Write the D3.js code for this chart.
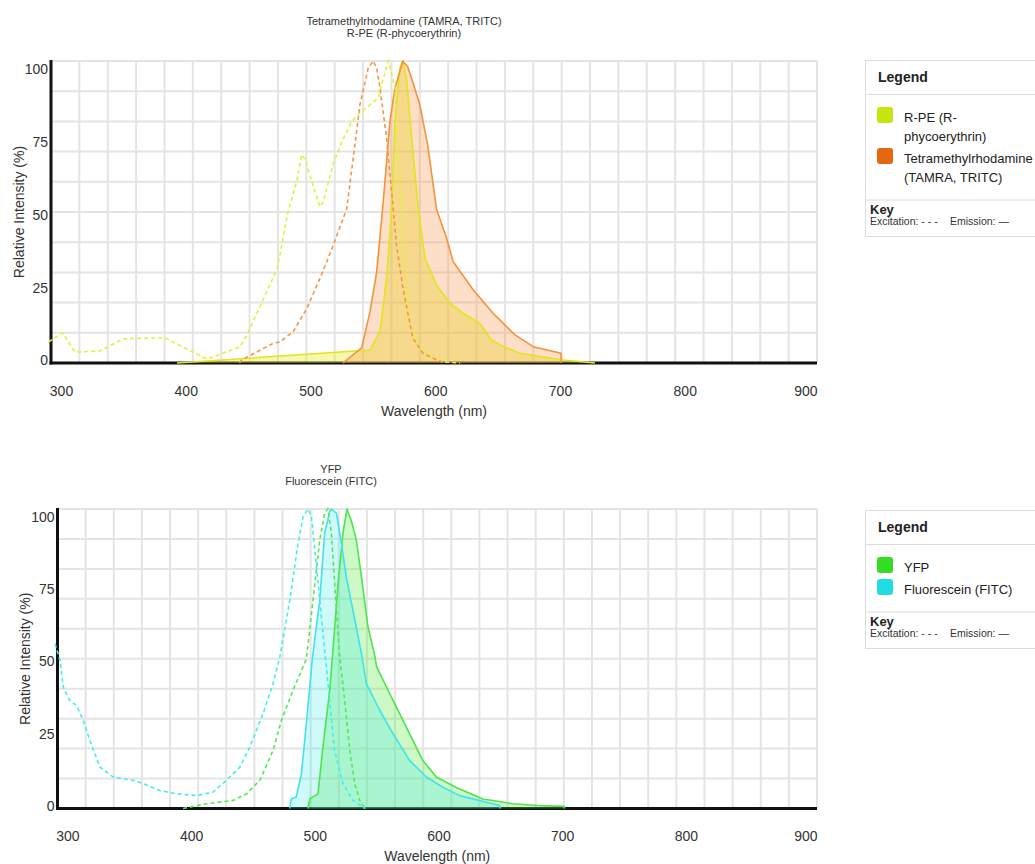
<!DOCTYPE html>
<html>
<head>
<meta charset="utf-8">
<script src="https://cdn.jsdelivr.net/npm/d3@7"></script>
<style>
  body { margin: 0; background: #fff; }
  svg { display: block; }
</style>
</head>
<body>
<svg id="spectra" width="1035" height="864"></svg>
<script>
// ---- axis ticks ----
const wavelengthDomain = [292, 906];
const wavelengthTicks = [300, 400, 500, 600, 700, 800, 900];
const intensityTicks = [0, 25, 50, 75, 100];
const gridColumns = 27;          // vertical grid divisions
const gridRowStep = 10;          // horizontal grid every 10 %

// ---- spectra: [wavelength (nm), relative intensity (%)] ----
const rpeExcitation = [[290,7],[301.6,10],[311.2,3.6],[331.3,4],[349.7,8],[379.4,8.3],[385,8],[417,1.3],[443.5,5.3],[449.9,10],[473.1,31],[475.5,35.8],[481.9,50],[489.2,60.6],[492.9,69],[495.5,67.5],[507.5,51.7],[510,53],[517.9,65.6],[525,73],[533,79.9],[539.6,82.8],[554.2,87.7],[562.3,100],[565,96],[567.7,91],[569,80],[573,51],[575.7,30],[579.7,12.6],[587.7,5],[598.2,1.7],[609.2,0.3],[620,0]];
const rpeEmission = [[393,0],[547.7,4.3],[555.7,10.4],[561,28],[565,51],[567.7,80],[571.7,97.7],[574,100],[577,94],[581.1,74.4],[586.4,51.2],[591.8,34.7],[601.1,25.8],[611.8,19.8],[622.4,16.4],[635.8,13.1],[645.2,7.6],[651.9,6],[667.9,3.2],[702.6,1],[728,0]];
const tamraExcitation = [[443,0],[444.8,1],[470,6.5],[475.5,7],[486.2,10.4],[497,18],[507.6,28],[518.3,39],[529,51],[534.3,68],[539.6,85.4],[546.3,97.7],[550.3,100],[553,97.7],[555.7,91],[561,74.5],[566,52.3],[569,39],[574,25],[582,8.3],[590,3.3],[601,1],[608,0]];
const tamraEmission = [[526,0],[541,5],[547.7,17],[553,30],[558,52],[563.7,80],[567.7,91],[574,100],[578,98],[582,93],[587.7,85.4],[594,72],[601,51],[609.1,41.3],[614.4,33.5],[630.5,24.2],[646.5,16.4],[651.9,14.2],[663.9,9.3],[678.6,5.4],[700.8,3.2],[701,0]];

const yfpExcitation = [[393.5,0],[412.5,1.6],[434,2.7],[444.8,4.9],[455.5,9.4],[466.3,19.4],[473,29.4],[482.4,39.5],[493.2,50],[498.6,69.6],[504,89.6],[508,98.6],[510.5,100],[513.4,92],[516.1,75],[518.8,58.5],[520.2,50.5],[524.2,36],[528.3,19.4],[532.3,8.3],[536.3,2.7],[540.4,0]];
const yfpEmission = [[494.5,0],[495.9,3.2],[502.6,4.9],[506.6,20.5],[512.1,39.5],[514.7,53],[518.8,75],[522.8,92],[526,100],[529.6,96],[533.6,89.6],[537.7,77.4],[543,60.6],[548.4,51.2],[550,47.3],[557.9,40.6],[571.3,29.4],[587.4,16],[598.3,10.5],[614.4,7],[635.9,3.2],[659.9,1.6],[680,1],[701.5,0.7],[702,0]];
const fitcExcitation = [[290,55],[294,49.5],[296.6,40.6],[302,36],[307.4,34.4],[312.8,29.4],[318.2,22.7],[326.3,13.8],[337,10.5],[353.2,9.4],[361.2,8.3],[374.7,6],[388.2,4.9],[404.4,4.3],[417.8,5.5],[428.6,9.4],[439.4,13.8],[447.4,20.5],[458.2,31.7],[466.3,41.7],[471.7,50.6],[479.8,69.6],[486.5,88.5],[490.5,97.4],[494.5,100],[497.3,97.4],[500,86.3],[504,69.6],[508,52.8],[512,36],[516,19.4],[522.8,8.3],[530.9,2.7],[539,0.4],[541,0]];
const fitcEmission = [[479.8,0],[481,3.2],[485,3.8],[489.2,11.6],[493.2,28.3],[498,50],[504,69.6],[508,92],[512,99],[513.4,100],[517.5,98.6],[520.2,92],[525.6,77],[530.9,66],[537.7,51.8],[541.7,41.7],[552.5,32.8],[563.2,25],[576.7,16],[590.2,10.5],[603.6,7.1],[617.1,4.3],[649.4,1],[650,0]];

// ---- names shown in titles and legends ----
const topTitleLines = ["Tetramethylrhodamine (TAMRA, TRITC)", "R-PE (R-phycoerythrin)"];
const bottomTitleLines = ["YFP", "Fluorescein (FITC)"];
const rpeLegendLines = ["R-PE (R-", "phycoerythrin)"];
const tamraLegendLines = ["Tetramethylrhodamine", "(TAMRA, TRITC)"];
const yfpLegendLines = ["YFP"];
const fitcLegendLines = ["Fluorescein (FITC)"];

const FONT = '"Liberation Sans", Arial, Helvetica, sans-serif';
const TEXT = "#333";

const svg = d3.select("#spectra").attr("font-family", FONT);

function drawChart(cfg) {
  const x = d3.scaleLinear().domain(wavelengthDomain).range([cfg.left, cfg.right]);
  const y = d3.scaleLinear().domain([0, 100]).range([cfg.bottom, cfg.top]);
  // tick labels sit slightly inside the extreme gridlines
  const yLabel = d3.scaleLinear().domain([0, 100]).range([cfg.bottom - 3, cfg.top + 7.5]);
  const gridX = d3.scaleLinear().domain([0, gridColumns]).range([cfg.left, cfg.right]);

  const g = svg.append("g");

  // grid
  g.append("g").selectAll("line").data(d3.range(1, gridColumns + 1)).join("line")
    .attr("x1", d => gridX(d)).attr("x2", d => gridX(d))
    .attr("y1", cfg.top).attr("y2", cfg.bottom)
    .attr("stroke", "#e4e4e4").attr("stroke-width", 2);
  g.append("g").selectAll("line").data(d3.range(gridRowStep, 101, gridRowStep)).join("line")
    .attr("x1", cfg.left).attr("x2", cfg.right)
    .attr("y1", d => y(d)).attr("y2", d => y(d))
    .attr("stroke", "#e4e4e4").attr("stroke-width", 2);

  // axis lines
  g.append("line").attr("x1", cfg.left).attr("x2", cfg.left)
    .attr("y1", cfg.top - 1).attr("y2", cfg.bottom + 1.5)
    .attr("stroke", "#111").attr("stroke-width", 3);
  g.append("line").attr("x1", cfg.left - 1.5).attr("x2", cfg.right)
    .attr("y1", cfg.bottom).attr("y2", cfg.bottom)
    .attr("stroke", "#111").attr("stroke-width", 3);

  // emission areas, then emission and excitation outlines
  const area = d3.area().x(d => x(d[0])).y0(y(0)).y1(d => y(d[1]));
  const line = d3.line().x(d => x(d[0])).y(d => y(d[1]));
  cfg.series.forEach(s => {
    g.append("path").datum(s.emission).attr("d", area).attr("fill", s.fill);
  });
  cfg.series.forEach(s => {
    g.append("path").datum(s.emission).attr("d", line)
      .attr("fill", "none").attr("stroke", s.emLine).attr("stroke-width", 1.6)
      .attr("stroke-linejoin", "round");
  });
  cfg.series.forEach(s => {
    g.append("path").datum(s.excitation).attr("d", line)
      .attr("fill", "none").attr("stroke", s.exLine).attr("stroke-width", 1.6)
      .attr("stroke-dasharray", "4,3");
  });

  // x axis labels
  const xAxis = g.append("g").attr("transform", `translate(0,${cfg.bottom})`)
    .call(d3.axisBottom(x).tickValues(wavelengthTicks).tickSize(0).tickFormat(d3.format("d")));
  xAxis.select(".domain").remove();
  xAxis.attr("font-family", FONT).attr("font-size", 14);
  xAxis.selectAll("text").attr("fill", TEXT).attr("y", 28).attr("dy", "0.35em")
    .each(function(d) {
      const w = this.getComputedTextLength();
      const over = x(d) + w / 2 - cfg.right;
      if (over > 0) d3.select(this).attr("x", -over);
    });

  // y axis labels
  const yAxis = g.append("g").attr("transform", `translate(${cfg.left},0)`)
    .call(d3.axisLeft(y).tickValues(intensityTicks).tickSize(0).tickPadding(3));
  yAxis.select(".domain").remove();
  yAxis.attr("font-family", FONT).attr("font-size", 14);
  yAxis.selectAll("text").attr("fill", TEXT)
    .attr("y", d => yLabel(d) - y(d)).attr("dy", "0.35em");

  // axis titles
  g.append("text").attr("x", (cfg.left + cfg.right) / 2).attr("y", cfg.bottom + 48)
    .attr("dy", "0.35em").attr("text-anchor", "middle")
    .attr("font-size", 14).attr("fill", TEXT).text("Wavelength (nm)");
  g.append("text")
    .attr("transform", `translate(${cfg.left - 32},${(cfg.top + cfg.bottom) / 2}) rotate(-90)`)
    .attr("dy", "0.35em").attr("text-anchor", "middle")
    .attr("font-size", 14).attr("fill", TEXT).text("Relative Intensity (%)");

  // chart title
  g.append("g").selectAll("text").data(cfg.titleLines).join("text")
    .attr("x", cfg.titleX).attr("y", (d, i) => cfg.top - 40 + i * 12)
    .attr("dy", "0.35em").attr("text-anchor", "middle")
    .attr("font-size", 11).attr("fill", TEXT).text(d => d);

  drawLegend(cfg);
}

function drawLegend(cfg) {
  const L = svg.append("g");
  const left = 865, T = cfg.legendTop, lineH = 19;
  const box = L.append("rect").attr("x", left + 0.5).attr("y", T + 0.5)
    .attr("width", 240).attr("fill", "#fff").attr("stroke", "#dcdcdc");
  L.append("text").attr("x", 878).attr("y", T + 17.5).attr("dy", "0.35em")
    .attr("font-size", 14).attr("font-weight", "bold").attr("fill", "#222").text("Legend");
  const sep1 = T + 34.5;
  L.append("line").attr("x1", left).attr("x2", 1100).attr("y1", sep1).attr("y2", sep1)
    .attr("stroke", "#dcdcdc");

  let blockTop = sep1 + 13;
  let lastCenter = blockTop;
  cfg.series.forEach(s => {
    L.append("rect").attr("x", 877).attr("y", blockTop - 0.5)
      .attr("width", 16).attr("height", 16).attr("rx", 3).attr("fill", s.swatch);
    s.legendLines.forEach((t, i) => {
      lastCenter = blockTop + 9.5 + i * lineH;
      L.append("text").attr("x", 904).attr("y", lastCenter).attr("dy", "0.35em")
        .attr("font-size", 13).attr("fill", "#222").text(t);
    });
    blockTop += s.legendLines.length * lineH + 3;
  });

  const sep2 = lastCenter + 23;
  L.append("line").attr("x1", left).attr("x2", 1100).attr("y1", sep2).attr("y2", sep2)
    .attr("stroke", "#dcdcdc");
  L.append("text").attr("x", 870).attr("y", sep2 + 9.5).attr("dy", "0.35em")
    .attr("font-size", 13).attr("font-weight", "bold").attr("fill", "#222").text("Key");
  L.append("text").attr("x", 870).attr("y", sep2 + 21.5).attr("dy", "0.35em")
    .attr("font-size", 10.5).attr("fill", "#333").text("Excitation: - - -");
  L.append("text").attr("x", 950).attr("y", sep2 + 21.5).attr("dy", "0.35em")
    .attr("font-size", 10.5).attr("fill", "#333").text("Emission: \u2014");
  box.attr("height", sep2 + 36 - T);
}

const rpe = { excitation: rpeExcitation, emission: rpeEmission, legendLines: rpeLegendLines,
  swatch: "#c8e412", exLine: "#e2f03c", emLine: "#e2e41e", fill: "rgba(232,232,20,0.35)" };
const tamra = { excitation: tamraExcitation, emission: tamraEmission, legendLines: tamraLegendLines,
  swatch: "#e5680f", exLine: "#f5954a", emLine: "#f5923c", fill: "rgba(248,150,70,0.3)" };
const yfp = { excitation: yfpExcitation, emission: yfpEmission, legendLines: yfpLegendLines,
  swatch: "#33dd22", exLine: "#55e855", emLine: "#4ee44e", fill: "rgba(90,235,70,0.3)" };
const fitc = { excitation: fitcExcitation, emission: fitcEmission, legendLines: fitcLegendLines,
  swatch: "#22dde0", exLine: "#44eef0", emLine: "#3ee3ee", fill: "rgba(60,235,235,0.25)" };

drawChart({
  left: 51, right: 817, top: 61, bottom: 363, titleX: 404, legendTop: 60,
  titleLines: topTitleLines, series: [rpe, tamra]
});
drawChart({
  left: 57.5, right: 817, top: 509, bottom: 808.5, titleX: 331, legendTop: 510,
  titleLines: bottomTitleLines, series: [yfp, fitc]
});
</script>
</body>
</html>
